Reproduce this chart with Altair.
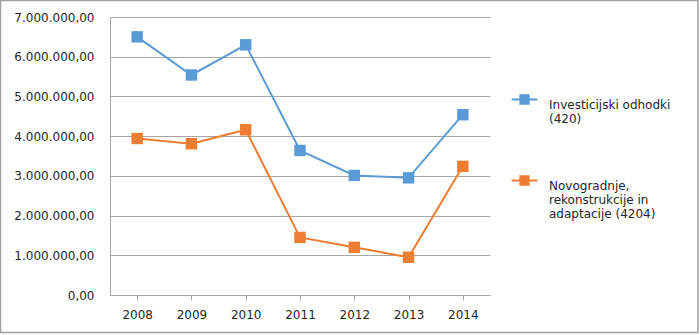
import altair as alt
import pandas as pd

years = ["2008", "2009", "2010", "2011", "2012", "2013", "2014"]
series_names = ["Investicijski odhodki (420)", "Novogradnje, rekonstrukcije in adaptacije (4204)"]
invest = [6500000, 5540000, 6300000, 3640000, 3010000, 2950000, 4540000]
novo = [3940000, 3810000, 4160000, 1450000, 1200000, 950000, 3240000]
colors = ["#5B9BD5", "#ED7D31"]

rows = []
for y, v in zip(years, invest):
    rows.append({"year": y, "series": series_names[0], "value": v})
for y, v in zip(years, novo):
    rows.append({"year": y, "series": series_names[1], "value": v})
df = pd.DataFrame(rows)

FONT = "DejaVu Sans"

legend_symbol = "M-1.4,0L1.4,0M-0.45,-0.45L0.45,-0.45L0.45,0.45L-0.45,0.45Z"

label_expr = ("datum.label == 'Investicijski odhodki (420)' ? ['Investicijski odhodki', '(420)'] : "
              "['Novogradnje,', 'rekonstrukcije in', 'adaptacije (4204)']")

base = alt.Chart(df).encode(
    x=alt.X("year:N", sort=years, title=None,
            scale=alt.Scale(paddingInner=0, paddingOuter=0.5),
            axis=alt.Axis(labelAngle=0, grid=False, domainColor="#A6A6A6",
                          tickColor="#A6A6A6", tickSize=5, labelPadding=9,
                          bandPosition=0, labelFont=FONT, labelFontSize=12,
                          labelColor="#262626")),
    y=alt.Y("value:Q", title=None,
            scale=alt.Scale(domain=[0, 7000000], nice=False),
            axis=alt.Axis(values=[0, 1000000, 2000000, 3000000, 4000000, 5000000, 6000000, 7000000],
                          format=",.2f", grid=True, gridColor="#A6A6A6", domain=True,
                          domainColor="#A6A6A6", ticks=False, labelPadding=16,
                          labelFont=FONT, labelFontSize=12, labelColor="#262626")),
    color=alt.Color("series:N", sort=series_names,
                    scale=alt.Scale(domain=series_names, range=colors),
                    legend=alt.Legend(title=None, orient="none", legendX=404, legendY=72,
                                      symbolType=legend_symbol, symbolSize=340,
                                      symbolStrokeWidth=2, labelExpr=label_expr,
                                      labelFont=FONT, labelFontSize=12, labelColor="#262626",
                                      labelLimit=300, labelOffset=14, rowPadding=45,
                                      labelBaseline="top")),
)

lines = base.mark_line(strokeWidth=2)
points = base.mark_square(size=130, opacity=1, filled=True)

frame = alt.Chart(pd.DataFrame({"a": [0]})).mark_rect(
    fill=None, stroke="#A0A0A0", strokeWidth=1.5
).encode(x=alt.value(-109.5), x2=alt.value(588), y=alt.value(-16.5), y2=alt.value(315.5))

chart = alt.layer(frame, lines, points).properties(
    width=380, height=278,
    padding={"left": 110, "top": 17, "right": 210, "bottom": 40},
    autosize=alt.AutoSizeParams(type="none"),
).configure(
    locale={"number": {"decimal": ",", "thousands": ".", "grouping": [3], "currency": ["", " €"]}}
).configure_view(stroke=None)

chart.save("out.html", embed_options={"renderer": "svg", "actions": False})
